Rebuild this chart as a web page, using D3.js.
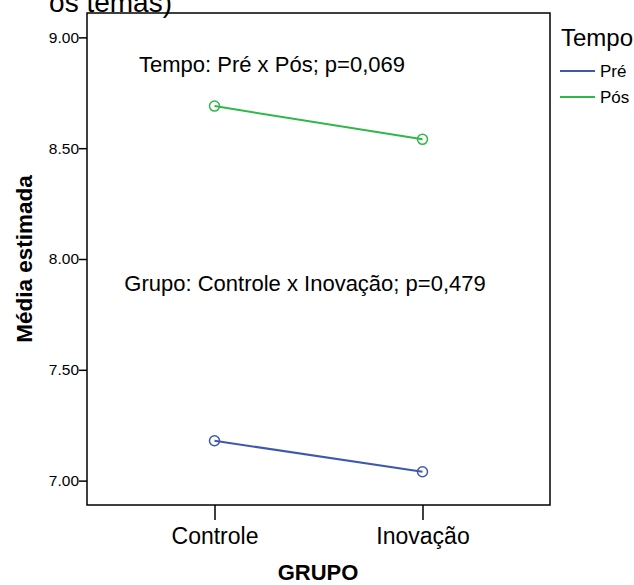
<!DOCTYPE html>
<html>
<head>
<meta charset="utf-8">
<script src="https://cdn.jsdelivr.net/npm/d3@7"></script>
<style>
body { margin: 0; background: #fff; }
text { font-family: "Liberation Sans", Arial, sans-serif; }
</style>
</head>
<body>
<div id="viz"></div>
<script>
var width = 634;
var height = 585;

var grupos = ["Controle", "Inovação"];
var tempos = ["Pré", "Pós"];
var valoresPre = [7.18, 7.04];
var valoresPos = [8.69, 8.54];
var yTicks = [7.0, 7.5, 8.0, 8.5, 9.0];
var cores = ["#3e58ac", "#2eb848"];

var frame = {left: 87, right: 550, top: 13, bottom: 505};

var x = d3.scalePoint()
	.domain(grupos)
	.range([frame.left, frame.right])
	.padding(0.613);

var y = d3.scaleLinear()
	.domain([6.89, 9.11])
	.range([frame.bottom, frame.top]);

var color = d3.scaleOrdinal()
	.domain(tempos)
	.range(cores);

var series = [
	{tempo: "Pré", values: valoresPre},
	{tempo: "Pós", values: valoresPos}
];

var svg = d3.select("#viz").append("svg")
	.attr("width", width)
	.attr("height", height);

svg.append("rect")
	.attr("width", width)
	.attr("height", height)
	.style("fill", "#ffffff");

// title of the page above, cut off at the top edge (as in the source image)
svg.append("text")
	.attr("x", 172)
	.attr("y", 12)
	.attr("text-anchor", "end")
	.style("font-size", "28px")
	.text("os temas)");

// frame
svg.append("rect")
	.attr("x", frame.left)
	.attr("y", frame.top)
	.attr("width", frame.right - frame.left)
	.attr("height", frame.bottom - frame.top)
	.style("fill", "none")
	.style("stroke", "#000")
	.style("stroke-width", 1.5);

var yAxis = svg.append("g")
	.attr("transform", "translate(" + frame.left + ",0)")
	.call(d3.axisLeft(y).tickValues(yTicks).tickSize(8).tickFormat(d3.format(".2f")));

yAxis.select(".domain").remove();
yAxis.selectAll("line").style("stroke-width", 1.5);
yAxis.selectAll("text")
	.attr("x", -8)
	.style("font-size", "15.5px")
	.style("font-family", "Liberation Sans, Arial, sans-serif")
	.style("fill", "#000");

var xAxis = svg.append("g")
	.attr("transform", "translate(0," + frame.bottom + ")")
	.call(d3.axisBottom(x).tickSize(15).tickPadding(8));

xAxis.select(".domain").remove();
xAxis.selectAll("line").style("stroke-width", 1.5);
xAxis.selectAll("text")
	.style("font-size", "23px")
	.style("font-family", "Liberation Sans, Arial, sans-serif")
	.style("fill", "#000");

// axis titles
svg.append("text")
	.attr("x", 318)
	.attr("y", 580)
	.attr("text-anchor", "middle")
	.style("font-size", "22px")
	.style("font-weight", "bold")
	.text("GRUPO");

svg.append("text")
	.attr("transform", "translate(32,259) rotate(-90)")
	.attr("text-anchor", "middle")
	.style("font-size", "22.5px")
	.style("font-weight", "bold")
	.text("Média estimada");

// lines and markers
var line = d3.line()
	.x(function(d, i) { return x(grupos[i]); })
	.y(function(d) { return y(d); });

var g = svg.selectAll(".serie")
	.data(series)
	.enter().append("g")
	.attr("class", "serie");

g.append("path")
	.attr("d", function(d) { return line(d.values); })
	.style("fill", "none")
	.style("stroke", function(d) { return color(d.tempo); })
	.style("stroke-width", 2);

g.selectAll("circle")
	.data(function(d) { return d.values.map(function(v, i) { return {v: v, g: grupos[i], tempo: d.tempo}; }); })
	.enter().append("circle")
	.attr("cx", function(d) { return x(d.g); })
	.attr("cy", function(d) { return y(d.v); })
	.attr("r", 5)
	.style("fill", "none")
	.style("stroke", function(d) { return color(d.tempo); })
	.style("stroke-width", 1.5);

// annotations
svg.append("text")
	.attr("x", 272)
	.attr("y", 72)
	.attr("text-anchor", "middle")
	.style("font-size", "22px")
	.text("Tempo: Pré x Pós; p=0,069");

svg.append("text")
	.attr("x", 305)
	.attr("y", 291)
	.attr("text-anchor", "middle")
	.style("font-size", "22px")
	.text("Grupo: Controle x Inovação; p=0,479");

// legend
var legend = svg.append("g")
	.attr("transform", "translate(560,0)");

legend.append("text")
	.attr("x", 1)
	.attr("y", 46)
	.style("font-size", "24px")
	.text("Tempo");

var items = legend.selectAll(".item")
	.data(tempos)
	.enter().append("g")
	.attr("class", "item")
	.attr("transform", function(d, i) { return "translate(0," + (71 + i * 26) + ")"; });

items.append("line")
	.attr("x1", 0)
	.attr("x2", 35)
	.style("stroke", function(d) { return color(d); })
	.style("stroke-width", 2);

items.append("text")
	.attr("x", 40)
	.attr("y", 6)
	.style("font-size", "17px")
	.text(function(d) { return d; });
</script>
</body>
</html>
